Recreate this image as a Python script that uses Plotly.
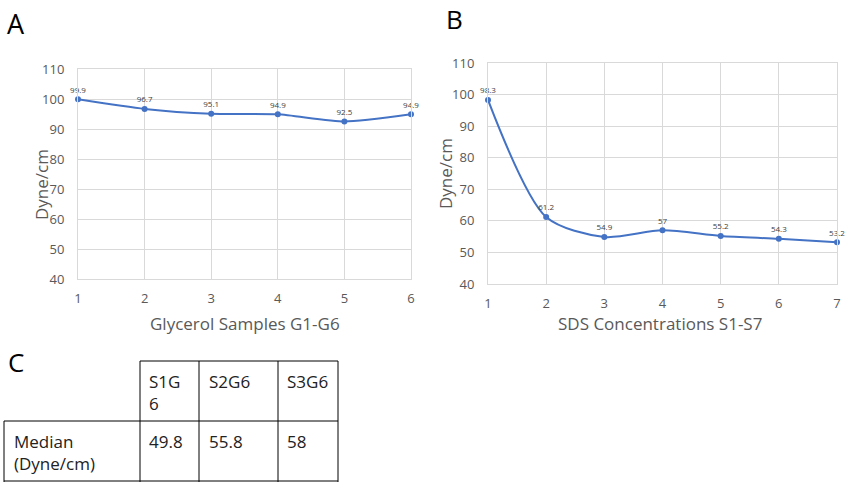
import plotly.graph_objects as go

# ---- data ----
glycerol_x = [1, 2, 3, 4, 5, 6]
glycerol_y = [99.9, 96.7, 95.1, 94.9, 92.5, 94.9]
sds_x = [1, 2, 3, 4, 5, 6, 7]
sds_y = [98.3, 61.2, 54.9, 57, 55.2, 54.3, 53.2]
y_ticks = [40, 50, 60, 70, 80, 90, 100, 110]

table_headers = ["S1G<br>6", "S2G6", "S3G6"]
table_row_label = "Median<br>(Dyne/cm)"
table_values = ["49.8", "55.8", "58"]

W, H = 846, 482
BLUE = "#4472C4"
GRID = "#d9d9d9"
TICK = "#595959"
FONT = "Open Sans"

def px(x):
    return x / W

def py(y):
    return 1 - y / H

fig = go.Figure()

def fmt(v):
    return ("%g" % v)

fig.add_trace(go.Scatter(
    x=glycerol_x, y=glycerol_y, mode="lines+markers+text",
    text=[fmt(v) for v in glycerol_y], textposition="top center",
    textfont=dict(size=8, color="#404040", family=FONT),
    line=dict(color=BLUE, width=2, shape="spline", smoothing=0.6),
    marker=dict(color=BLUE, size=6), xaxis="x", yaxis="y",
    cliponaxis=False, showlegend=False, hoverinfo="skip"))

fig.add_trace(go.Scatter(
    x=sds_x, y=sds_y, mode="lines+markers+text",
    text=[fmt(v) for v in sds_y], textposition="top center",
    textfont=dict(size=8, color="#404040", family=FONT),
    line=dict(color=BLUE, width=2, shape="spline", smoothing=0.8),
    marker=dict(color=BLUE, size=6), xaxis="x2", yaxis="y2",
    cliponaxis=False, showlegend=False, hoverinfo="skip"))

axis_common = dict(showgrid=True, gridcolor=GRID, gridwidth=1, zeroline=False,
                   showline=True, linecolor=GRID, linewidth=1, mirror=True,
                   automargin=False,
                   tickfont=dict(size=13, color=TICK, family=FONT), ticks="")

fig.update_layout(
    width=W, height=H, margin=dict(l=0, r=0, t=0, b=0, pad=0, autoexpand=False),
    paper_bgcolor="white", plot_bgcolor="white",
    font=dict(family=FONT),
    xaxis=dict(domain=[px(78), px(411)], range=[1, 6], tickvals=glycerol_x,
               anchor="y", ticklabelstandoff=7, **axis_common),
    yaxis=dict(domain=[py(279), py(69)], range=[40, 110], tickvals=y_ticks,
               anchor="x", ticklabelstandoff=10, **axis_common),
    xaxis2=dict(domain=[px(488), px(837)], range=[1, 7], tickvals=sds_x,
                anchor="y2", ticklabelstandoff=7, **axis_common),
    yaxis2=dict(domain=[py(284), py(63)], range=[40, 110], tickvals=y_ticks,
                anchor="x2", ticklabelstandoff=10, **axis_common),
)

ann = []
def add_text(txt, x, y, size, color, xanchor="center", yanchor="middle", angle=0):
    ann.append(dict(text=txt, x=px(x), y=py(y), xref="paper", yref="paper",
                    showarrow=False, xanchor=xanchor, yanchor=yanchor, align="left",
                    textangle=angle, font=dict(size=size, color=color, family=FONT)))

# panel letters
add_text("A", 16, 23, 27, "black")
add_text("B", 454, 19, 26, "black")
add_text("C", 16, 362, 26, "black")
# axis titles
add_text("Glycerol Samples G1-G6", 245, 323, 17, TICK)
add_text("SDS Concentrations S1-S7", 660, 323, 17, TICK)
add_text("Dyne/cm", 42, 185, 17, TICK, angle=-90)
add_text("Dyne/cm", 445, 174, 17, TICK, angle=-90)

# table text
col_x = [147, 207, 285]
for i, h in enumerate(table_headers):
    add_text(h, col_x[i], 368, 17, "#222", xanchor="left", yanchor="top")
    add_text(table_values[i], col_x[i], 428, 17, "#222", xanchor="left", yanchor="top")
add_text(table_row_label, 12, 428, 17, "#222", xanchor="left", yanchor="top")
fig.update_layout(annotations=ann)

# table borders
shapes = []
def line(x0, y0, x1, y1):
    shapes.append(dict(type="line", xref="paper", yref="paper",
                       x0=px(x0), y0=py(y0), x1=px(x1), y1=py(y1),
                       line=dict(color="black", width=1)))
line(140, 361, 338, 361)
line(4, 421, 338, 421)
line(4, 481, 338, 481)
line(4, 421, 4, 482)
for xv in [140, 199, 278, 338]:
    line(xv, 361, xv, 482)
fig.update_layout(shapes=shapes)

fig.write_html("out.html", config={"displayModeBar": False},
               post_script="document.body.style.margin='0';document.body.style.overflow='hidden';")
